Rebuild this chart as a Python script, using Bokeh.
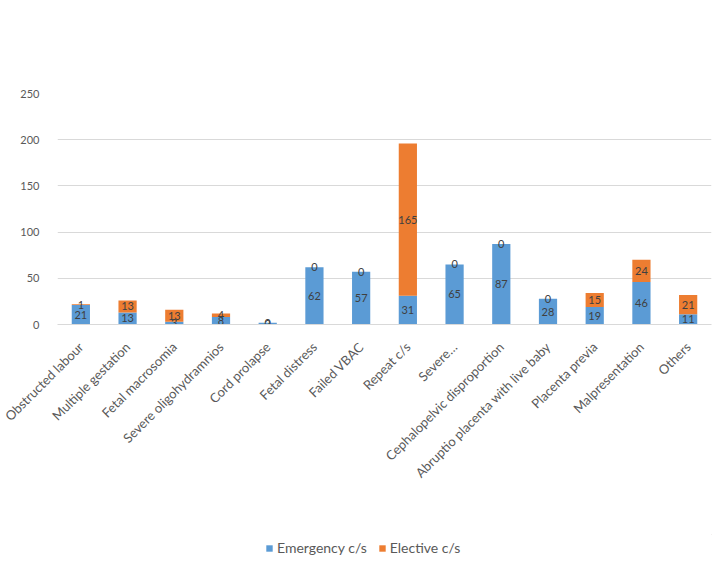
from bokeh.plotting import figure
from bokeh.models import Range1d, Legend, LegendItem, ColumnDataSource, FactorRange
from bokeh.layouts import column
from bokeh.core.properties import value
from bokeh.embed import file_html
from bokeh.resources import INLINE
import math

categories = ["Obstructed labour", "Multiple gestation", "Fetal macrosomia",
              "Severe oligohydramnios", "Cord prolapse", "Fetal distress",
              "Failed VBAC", "Repeat c/s", "Severe\u2026",
              "Cephalopelvic disproportion", "Abruptio placenta with live baby",
              "Placenta previa", "Malpresentation", "Others"]
emergency = [21, 13, 3, 8, 2, 62, 57, 31, 65, 87, 28, 19, 46, 11]
elective = [1, 13, 13, 4, 0, 0, 0, 165, 0, 0, 0, 15, 24, 21]
y_ticks = [0, 50, 100, 150, 200, 250]
series_names = ["Emergency c/s", "Elective c/s"]

BLUE = "#5B9BD5"
ORANGE = "#ED7D31"
FONT = "Lato"
GRAY = "#595959"

src = ColumnDataSource(dict(
    cat=categories, emergency=emergency, elective=elective,
    e_mid=[e / 2 for e in emergency],
    l_mid=[e + l / 2 for e, l in zip(emergency, elective)],
    e_txt=[str(v) for v in emergency],
    l_txt=[str(v) for v in elective],
))

p = figure(width=717, height=534, output_backend="svg", toolbar_location=None,
           x_range=FactorRange(*categories, range_padding=0), y_range=Range1d(0, 250),
           min_border_left=57, min_border_right=6, min_border_top=93, min_border_bottom=210)

rs = p.vbar_stack(["emergency", "elective"], x="cat", width=0.39, source=src,
                  color=[BLUE, ORANGE], line_color=None)

p.text(x="cat", y="e_mid", text="e_txt", source=src, text_align="center",
       text_baseline="middle", text_font=value(FONT), text_font_size="11px",
       text_color="#404040")
p.text(x="cat", y="l_mid", text="l_txt", source=src, text_align="center",
       text_baseline="middle", text_font=value(FONT), text_font_size="11px",
       text_color="#404040")

p.outline_line_color = None
p.xgrid.grid_line_color = None
p.ygrid.grid_line_color = "#D9D9D9"
p.yaxis.ticker = y_ticks
p.yaxis.axis_line_color = None
p.yaxis.major_tick_line_color = None
p.yaxis.minor_tick_line_color = None
p.yaxis.major_label_text_font = FONT
p.yaxis.major_label_text_font_size = "11px"
p.yaxis.major_label_text_color = GRAY
p.yaxis.major_label_standoff = 12

p.xaxis.axis_line_color = "#D9D9D9"
p.xaxis.major_tick_line_color = None
p.xaxis.major_label_orientation = math.pi / 4
p.xaxis.major_label_text_font = FONT
p.xaxis.major_label_text_font_size = "13px"
p.xaxis.major_label_text_color = GRAY
p.xaxis.major_label_standoff = 14

# legend strip (its swatch renderers sit outside the visible range)
pl = figure(width=717, height=24, output_backend="svg", toolbar_location=None,
            x_range=Range1d(0, 1), y_range=Range1d(0, 1),
            x_axis_location=None, y_axis_location=None,
            min_border=0, min_border_left=0, min_border_right=0,
            min_border_top=0, min_border_bottom=0)
pl.outline_line_color = None
pl.xgrid.grid_line_color = None
pl.ygrid.grid_line_color = None
r1 = pl.vbar(x=[5], top=[5], bottom=[4], width=0.1, fill_color=BLUE, line_color=None)
r2 = pl.vbar(x=[5], top=[5], bottom=[4], width=0.1, fill_color=ORANGE, line_color=None)
legend = Legend(items=[LegendItem(label=series_names[0], renderers=[r1]),
                       LegendItem(label=series_names[1], renderers=[r2])],
                orientation="horizontal", location=(208, 2), margin=0,
                label_text_font=FONT, label_text_font_size="14px",
                label_text_color=GRAY, glyph_width=8, glyph_height=8,
                spacing=11, padding=2, border_line_color=None,
                background_fill_alpha=0, label_standoff=4)
pl.add_layout(legend, "center")

layout = column(p, pl, spacing=0)
open("out.html", "w").write(file_html(layout, INLINE))
